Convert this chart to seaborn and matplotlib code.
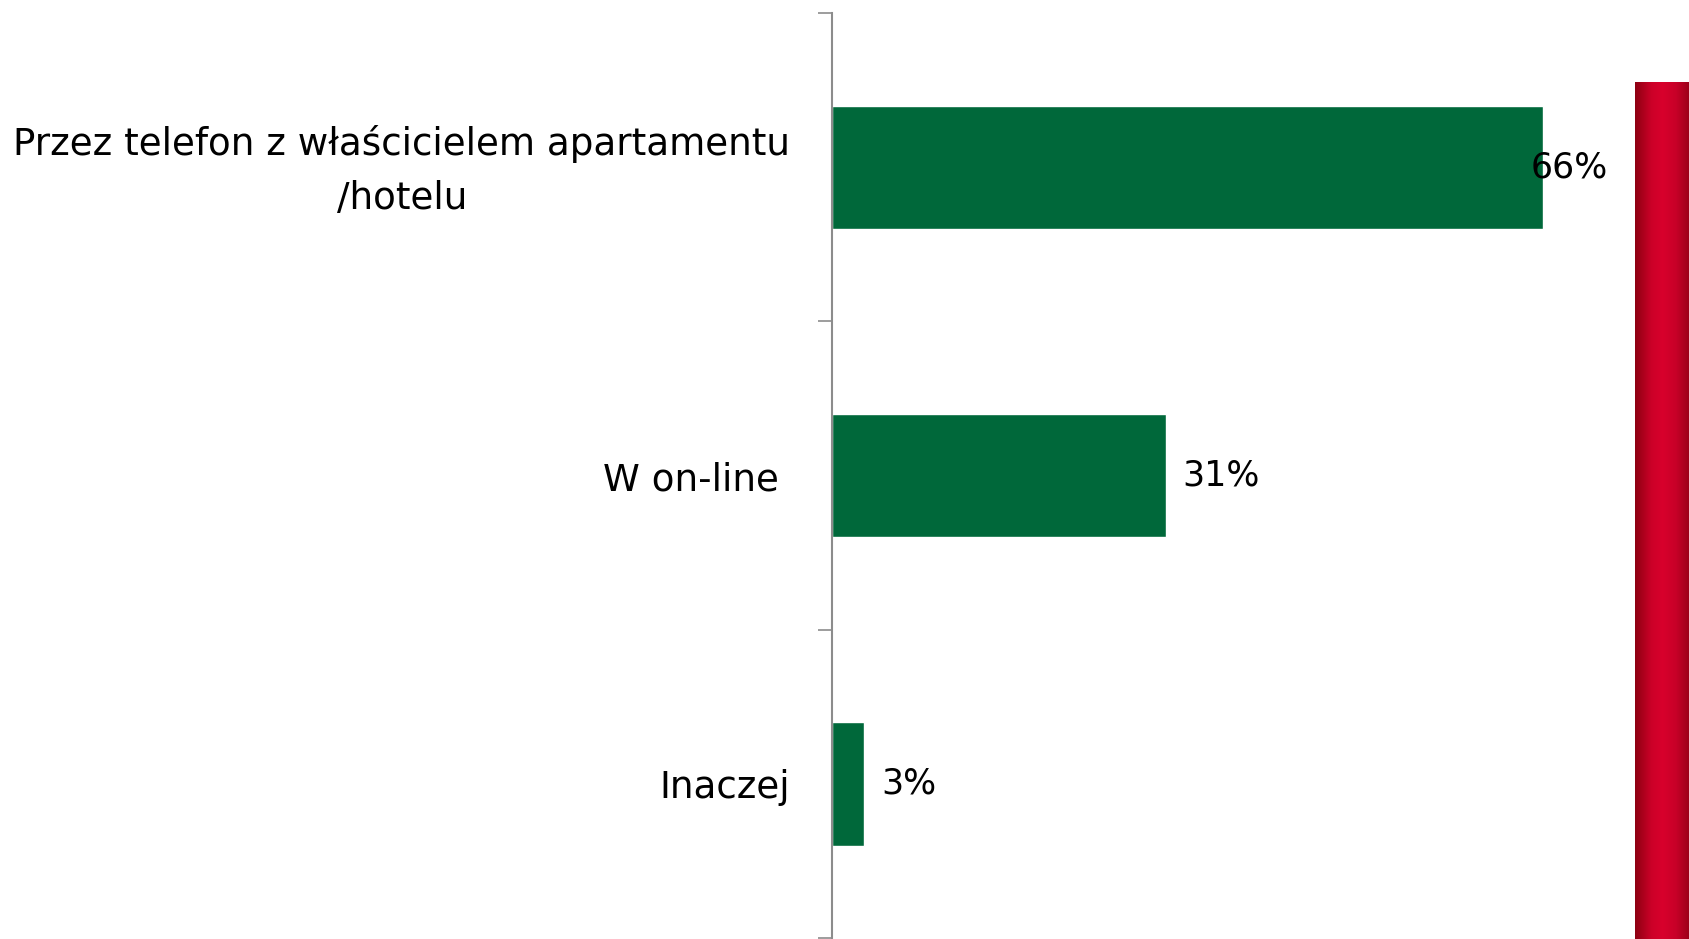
import numpy as np
import pandas as pd
import matplotlib
matplotlib.use("Agg")
import matplotlib.pyplot as plt
import matplotlib.transforms as mtransforms
import seaborn as sns
from matplotlib.colors import LinearSegmentedColormap

# Daten
categories = ["Przez telefon z właścicielem apartamentu\n/hotelu", "W on-line ", "Inaczej"]
values = [66, 31, 3]
value_labels = ["66%", "31%", "3%"]

df = pd.DataFrame({"kategoria": categories, "procent": values})

sns.set_style("white")
plt.rcParams['font.family'] = ['DejaVu Sans']
plt.rcParams['text.color'] = 'black'
plt.rcParams['ytick.labelcolor'] = 'black'

fig = plt.figure(figsize=(16.9, 9.39), dpi=100)
ax = fig.add_axes([832 / 1690, 1 / 939, 808 / 1690, 925 / 939])

green = "#00683a"
sns.barplot(data=df, x="procent", y="kategoria", orient="h", color=green,
            width=0.4, saturation=1, ax=ax)

ax.set_xlim(0, 75)
ax.set_ylim(2.5, -0.5)
ax.set_xlabel("")
ax.set_ylabel("")
ax.set_xticks([])

# Achse: nur links, grau
for s in ["top", "right", "bottom"]:
    ax.spines[s].set_visible(False)
ax.spines["left"].set_color("#8c8c8c")
ax.spines["left"].set_linewidth(1.5)

ax.set_yticks(range(len(categories)))
ax.set_yticklabels(categories, fontsize=26.8, multialignment="center",
                   linespacing=1.6, color="black")
ax.tick_params(axis="y", which="major", left=True, length=0, pad=30)
ax.set_yticks(np.arange(-0.5, len(categories), 1.0), minor=True)
ax.tick_params(axis="y", which="minor", left=True, length=10, width=1.2,
               color="#8c8c8c")

# mehrzeiliges Label etwas nach oben schieben
for lbl in ax.get_yticklabels():
    if "\n" in lbl.get_text():
        lbl.set_transform(lbl.get_transform() +
                          mtransforms.ScaledTranslation(0, 0.09, fig.dpi_scale_trans))

# Wertebeschriftung
for i, (v, lab) in enumerate(zip(values, value_labels)):
    if v == max(values):
        ax.annotate(lab, (v, i), xytext=(-9, 0), textcoords="offset points",
                    ha="left", va="center", fontsize=25, color="black")
    else:
        ax.annotate(lab, (v, i), xytext=(12, 0), textcoords="offset points",
                    ha="left", va="center", fontsize=25, color="black")

# Roter Balken rechts (Dekoration)
rax = fig.add_axes([1635 / 1690, 0, 55 / 1690, 857 / 939])
cmap = LinearSegmentedColormap.from_list(
    "rot", [(0.0, "#8e0012"), (0.3, "#cc0028"), (0.5, "#d8002c"),
            (0.75, "#c80028"), (1.0, "#9a0018")])
rax.imshow(np.linspace(0, 1, 100)[None, :], aspect="auto", cmap=cmap)
rax.axis("off")

fig.savefig("out.png", dpi=100)
